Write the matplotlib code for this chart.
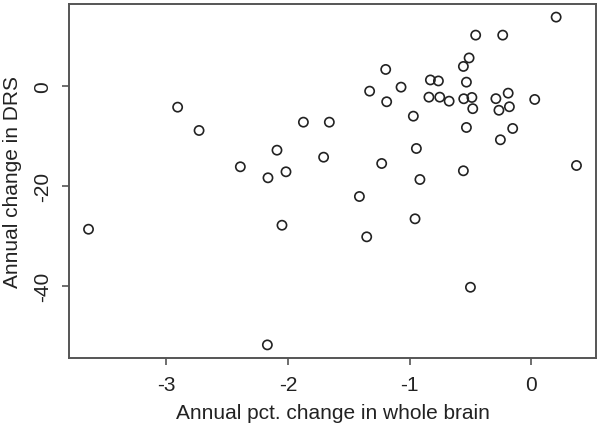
import matplotlib
matplotlib.use("Agg")
import matplotlib.pyplot as plt

brain_change = [-2.906, -2.730, -2.391, -2.164, -2.090, -2.016, -1.873, -1.660, -1.707,
                0.203, -0.458, -0.236, -0.512, -0.559, -1.197, -0.830, -0.764, -0.534,
                -1.329, -1.071, -1.189, -0.842, -0.753, -0.676, -0.556, -0.489, -0.482,
                -0.292, -0.191, -0.267, -0.181, 0.027, -0.970, -0.534, -0.154, -0.255,
                -0.945, -1.230, -0.916, -0.559, 0.370, -1.413, -0.956, -1.353, -0.501,
                -3.638, -2.049, -2.169]
drs_change = [-4.2, -8.86, -16.12, -18.32, -12.8, -17.12, -7.2, -7.2, -14.2,
              13.8, 10.2, 10.2, 5.64, 3.94, 3.34, 1.24, 1.04, 0.8,
              -1.0, -0.2, -3.12, -2.2, -2.2, -3.0, -2.52, -2.26, -4.5,
              -2.5, -1.4, -4.82, -4.12, -2.66, -6.0, -8.26, -8.46, -10.72,
              -12.46, -15.46, -18.66, -16.92, -15.86, -22.06, -26.52, -30.12, -40.2,
              -28.6, -27.8, -51.72]
x_ticks = [-3, -2, -1, 0]
y_ticks = [-40, -20, 0]
x_label = "Annual pct. change in whole brain"
y_label = "Annual change in DRS"

plt.rcParams['font.family'] = ['Liberation Sans', 'DejaVu Sans']

fig = plt.figure(figsize=(6.01, 4.27), dpi=100)
ax = fig.add_axes([69/601, 68/427, 527/601, 354/427])
ax.scatter(brain_change, drs_change, s=44, facecolors='none', edgecolors='#222222', linewidths=1.2)

xmin, xmax = min(brain_change), max(brain_change)
ymin, ymax = min(drs_change), max(drs_change)
dx = (xmax - xmin) * 0.04
dy = (ymax - ymin) * 0.04
ax.set_xlim(xmin - dx, xmax + dx)
ax.set_ylim(ymin - dy, ymax + dy)
ax.set_xticks(x_ticks)
ax.set_xticklabels([str(t) for t in x_ticks])
ax.set_yticks(y_ticks)
ax.set_yticklabels([str(t) for t in y_ticks], rotation=90, va='center')
for s in ax.spines.values():
    s.set_color('#555555')
    s.set_linewidth(1.4)
ax.tick_params(axis='both', length=5, width=1.2, color='#555555', labelsize=15, labelcolor='#222222', pad=7)
ax.set_xlabel(x_label, fontsize=15, color='#222222', labelpad=7)
ax.set_ylabel(y_label, fontsize=15, color='#222222', labelpad=8)

fig.savefig("out.png", dpi=100)
